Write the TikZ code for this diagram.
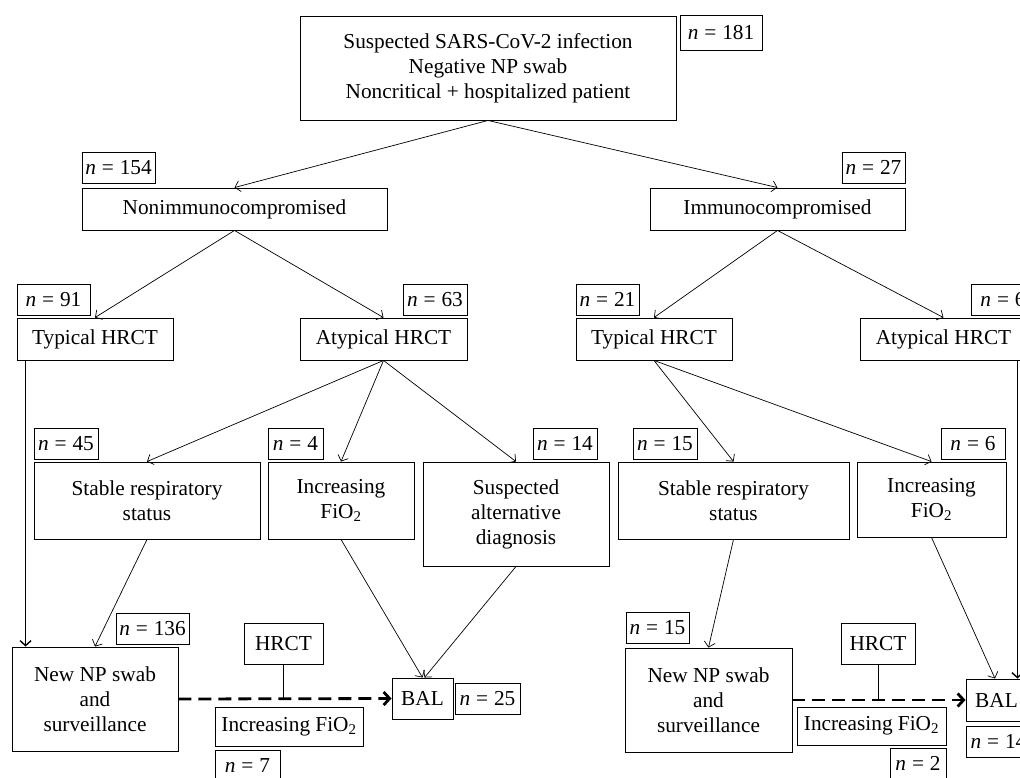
\documentclass[tikz,border=0pt]{standalone}
\usepackage{fontspec}
\setmainfont{Liberation Serif}
\usetikzlibrary{arrows.meta,calc}
\begin{document}
\begin{tikzpicture}[x=1pt,y=-1pt,
  box/.style={draw, line width=0.9pt, inner sep=0pt, align=center, font=\fontsize{21.3}{25}\selectfont},
  conn/.style={line width=0.7pt, -{Straight Barb[length=5pt,width=11pt]}},
  thickconn/.style={line width=1.4pt, -{Straight Barb[length=5pt,width=11pt]}},
  plainline/.style={line width=0.9pt},
  dasharrow/.style={line width=2.8pt, dash pattern=on 13pt off 7pt, -{Straight Barb[length=6pt,width=13pt]}}]
\useasboundingbox (0,0) rectangle (1020,777);
\clip (0,0) rectangle (1020,777);
\newcommand{\nn}[1]{\textit{n}\;=\;#1}
% level 1
\node[box, minimum width=376pt, minimum height=104pt] (top) at (488,68) {Suspected SARS-CoV-2 infection\\Negative NP swab\\Noncritical + hospitalized patient};
\node[box, minimum width=82pt, minimum height=35pt] (n181) at (721,32.5) {\nn{181}};
% level 2
\node[box, minimum width=305pt, minimum height=42pt] (nonimm) at (234.5,209) {Nonimmunocompromised};
\node[box, minimum width=73pt, minimum height=31pt] (n154) at (118.5,167.5) {\nn{154}};
\node[box, minimum width=255pt, minimum height=42pt] (immuno) at (777.5,209) {Immunocompromised};
\node[box, minimum width=63pt, minimum height=31pt] (n27) at (873.5,167.5) {\nn{27}};
% level 3
\node[box, minimum width=156pt, minimum height=42pt] (typL) at (95,339) {Typical HRCT};
\node[box, minimum width=73pt, minimum height=31pt] (n91) at (53.5,299.5) {\nn{91}};
\node[box, minimum width=167pt, minimum height=42pt] (atyL) at (383.5,339) {Atypical HRCT};
\node[box, minimum width=64pt, minimum height=31pt] (n63) at (435,299.5) {\nn{63}};
\node[box, minimum width=156pt, minimum height=42pt] (typR) at (654,339) {Typical HRCT};
\node[box, minimum width=63pt, minimum height=31pt] (n21) at (607.5,299.5) {\nn{21}};
\node[box, minimum width=167pt, minimum height=42pt] (atyR) at (943.5,339) {Atypical HRCT};
\node[box, minimum width=64pt, minimum height=31pt] (n6a) at (1003,299.5) {\nn{6}};
% level 4
\node[box, minimum width=226pt, minimum height=77pt] (stabL) at (147,500.5) {Stable respiratory\\status};
\node[box, minimum width=64pt, minimum height=31pt] (n45) at (66,443.5) {\nn{45}};
\node[box, minimum width=146pt, minimum height=77pt] (incL) at (341,500.5) {Increasing\\FiO\textsubscript{2}};
\node[box, minimum width=55pt, minimum height=31pt] (n4) at (295.5,443.5) {\nn{4}};
\node[box, minimum width=186pt, minimum height=104pt] (altL) at (516,514) {Suspected\\alternative\\diagnosis};
\node[box, minimum width=64pt, minimum height=31pt] (n14) at (565,443.5) {\nn{14}};
\node[box, minimum width=231pt, minimum height=77pt] (stabR) at (733.5,500.5) {Stable respiratory\\status};
\node[box, minimum width=64pt, minimum height=31pt] (n15a) at (665,443.5) {\nn{15}};
\node[box, minimum width=149pt, minimum height=75pt] (incR) at (931.5,499.5) {Increasing\\FiO\textsubscript{2}};
\node[box, minimum width=64pt, minimum height=31pt] (n6b) at (973,443.5) {\nn{6}};
% bottom left
\node[box, minimum width=166pt, minimum height=104pt] (npL) at (95,699) {New NP swab\\and\\surveillance};
\node[box, minimum width=73pt, minimum height=31pt] (n136) at (152.5,628.5) {\nn{136}};
\node[box, minimum width=79pt, minimum height=41pt] (hrctL) at (283.5,643.5) {HRCT};
\node[box, minimum width=61pt, minimum height=41pt] (balL) at (422.5,698.5) {BAL};
\node[box, minimum width=65pt, minimum height=31pt] (n25) at (487.5,698.5) {\nn{25}};
\node[box, minimum width=148pt, minimum height=39pt] (incFL) at (289,726.5) {Increasing FiO\textsubscript{2}};
\node[box, minimum width=65pt, minimum height=31pt] (n7) at (247.5,765.5) {\nn{7}};
% bottom right
\node[box, minimum width=167pt, minimum height=104pt] (npR) at (708.5,700) {New NP swab\\and\\surveillance};
\node[box, minimum width=63pt, minimum height=31pt] (n15b) at (657.5,627.5) {\nn{15}};
\node[box, minimum width=74pt, minimum height=41pt] (hrctR) at (878,643.5) {HRCT};
\node[box, minimum width=61pt, minimum height=42pt] (balR) at (996.5,700) {BAL};
\node[box, minimum width=65pt, minimum height=31pt] (n14b) at (998.5,741.5) {\nn{14}};
\node[box, minimum width=149pt, minimum height=38pt] (incFR) at (871.5,726) {Increasing FiO\textsubscript{2}};
\node[box, minimum width=56pt, minimum height=31pt] (n2) at (918,763.5) {\nn{2}};
% connectors
\draw[conn] (top.south) -- (nonimm.north);
\draw[conn] (top.south) -- (immuno.north);
\draw[conn] (nonimm.south) -- (typL.north);
\draw[conn] (nonimm.south) -- (atyL.north);
\draw[conn] (immuno.south) -- (typR.north);
\draw[conn] (immuno.south) -- (atyR.north);
\draw[thickconn] ([xshift=9pt]typL.south west) -- ([xshift=9pt]typL.south west |- npL.north);
\draw[conn] (atyL.south) -- (stabL.north);
\draw[conn] (atyL.south) -- (incL.north);
\draw[conn] (atyL.south) -- (altL.north);
\draw[conn] (stabL.south) -- (npL.north);
\draw[conn] (incL.south) -- (balL.north);
\draw[conn] (altL.south) -- ([xshift=2pt]balL.north);
\draw[dasharrow] (npL.east) -- (balL.west);
\draw[plainline] (hrctL.south) -- (hrctL.south |- npL.east);
\draw[conn] (typR.south) -- (stabR.north);
\draw[conn] (typR.south) -- (incR.north);
\draw[thickconn] ([xshift=-10pt]atyR.south east) -- ([xshift=-10pt]atyR.south east |- balR.north);
\draw[conn] (stabR.south) -- (npR.north);
\draw[conn] (incR.south) -- ([xshift=-1.5pt]balR.north);
\draw[dasharrow] (npR.east) -- (balR.west);
\draw[plainline] (hrctR.south) -- (hrctR.south |- npR.east);
\end{tikzpicture}
\end{document}
